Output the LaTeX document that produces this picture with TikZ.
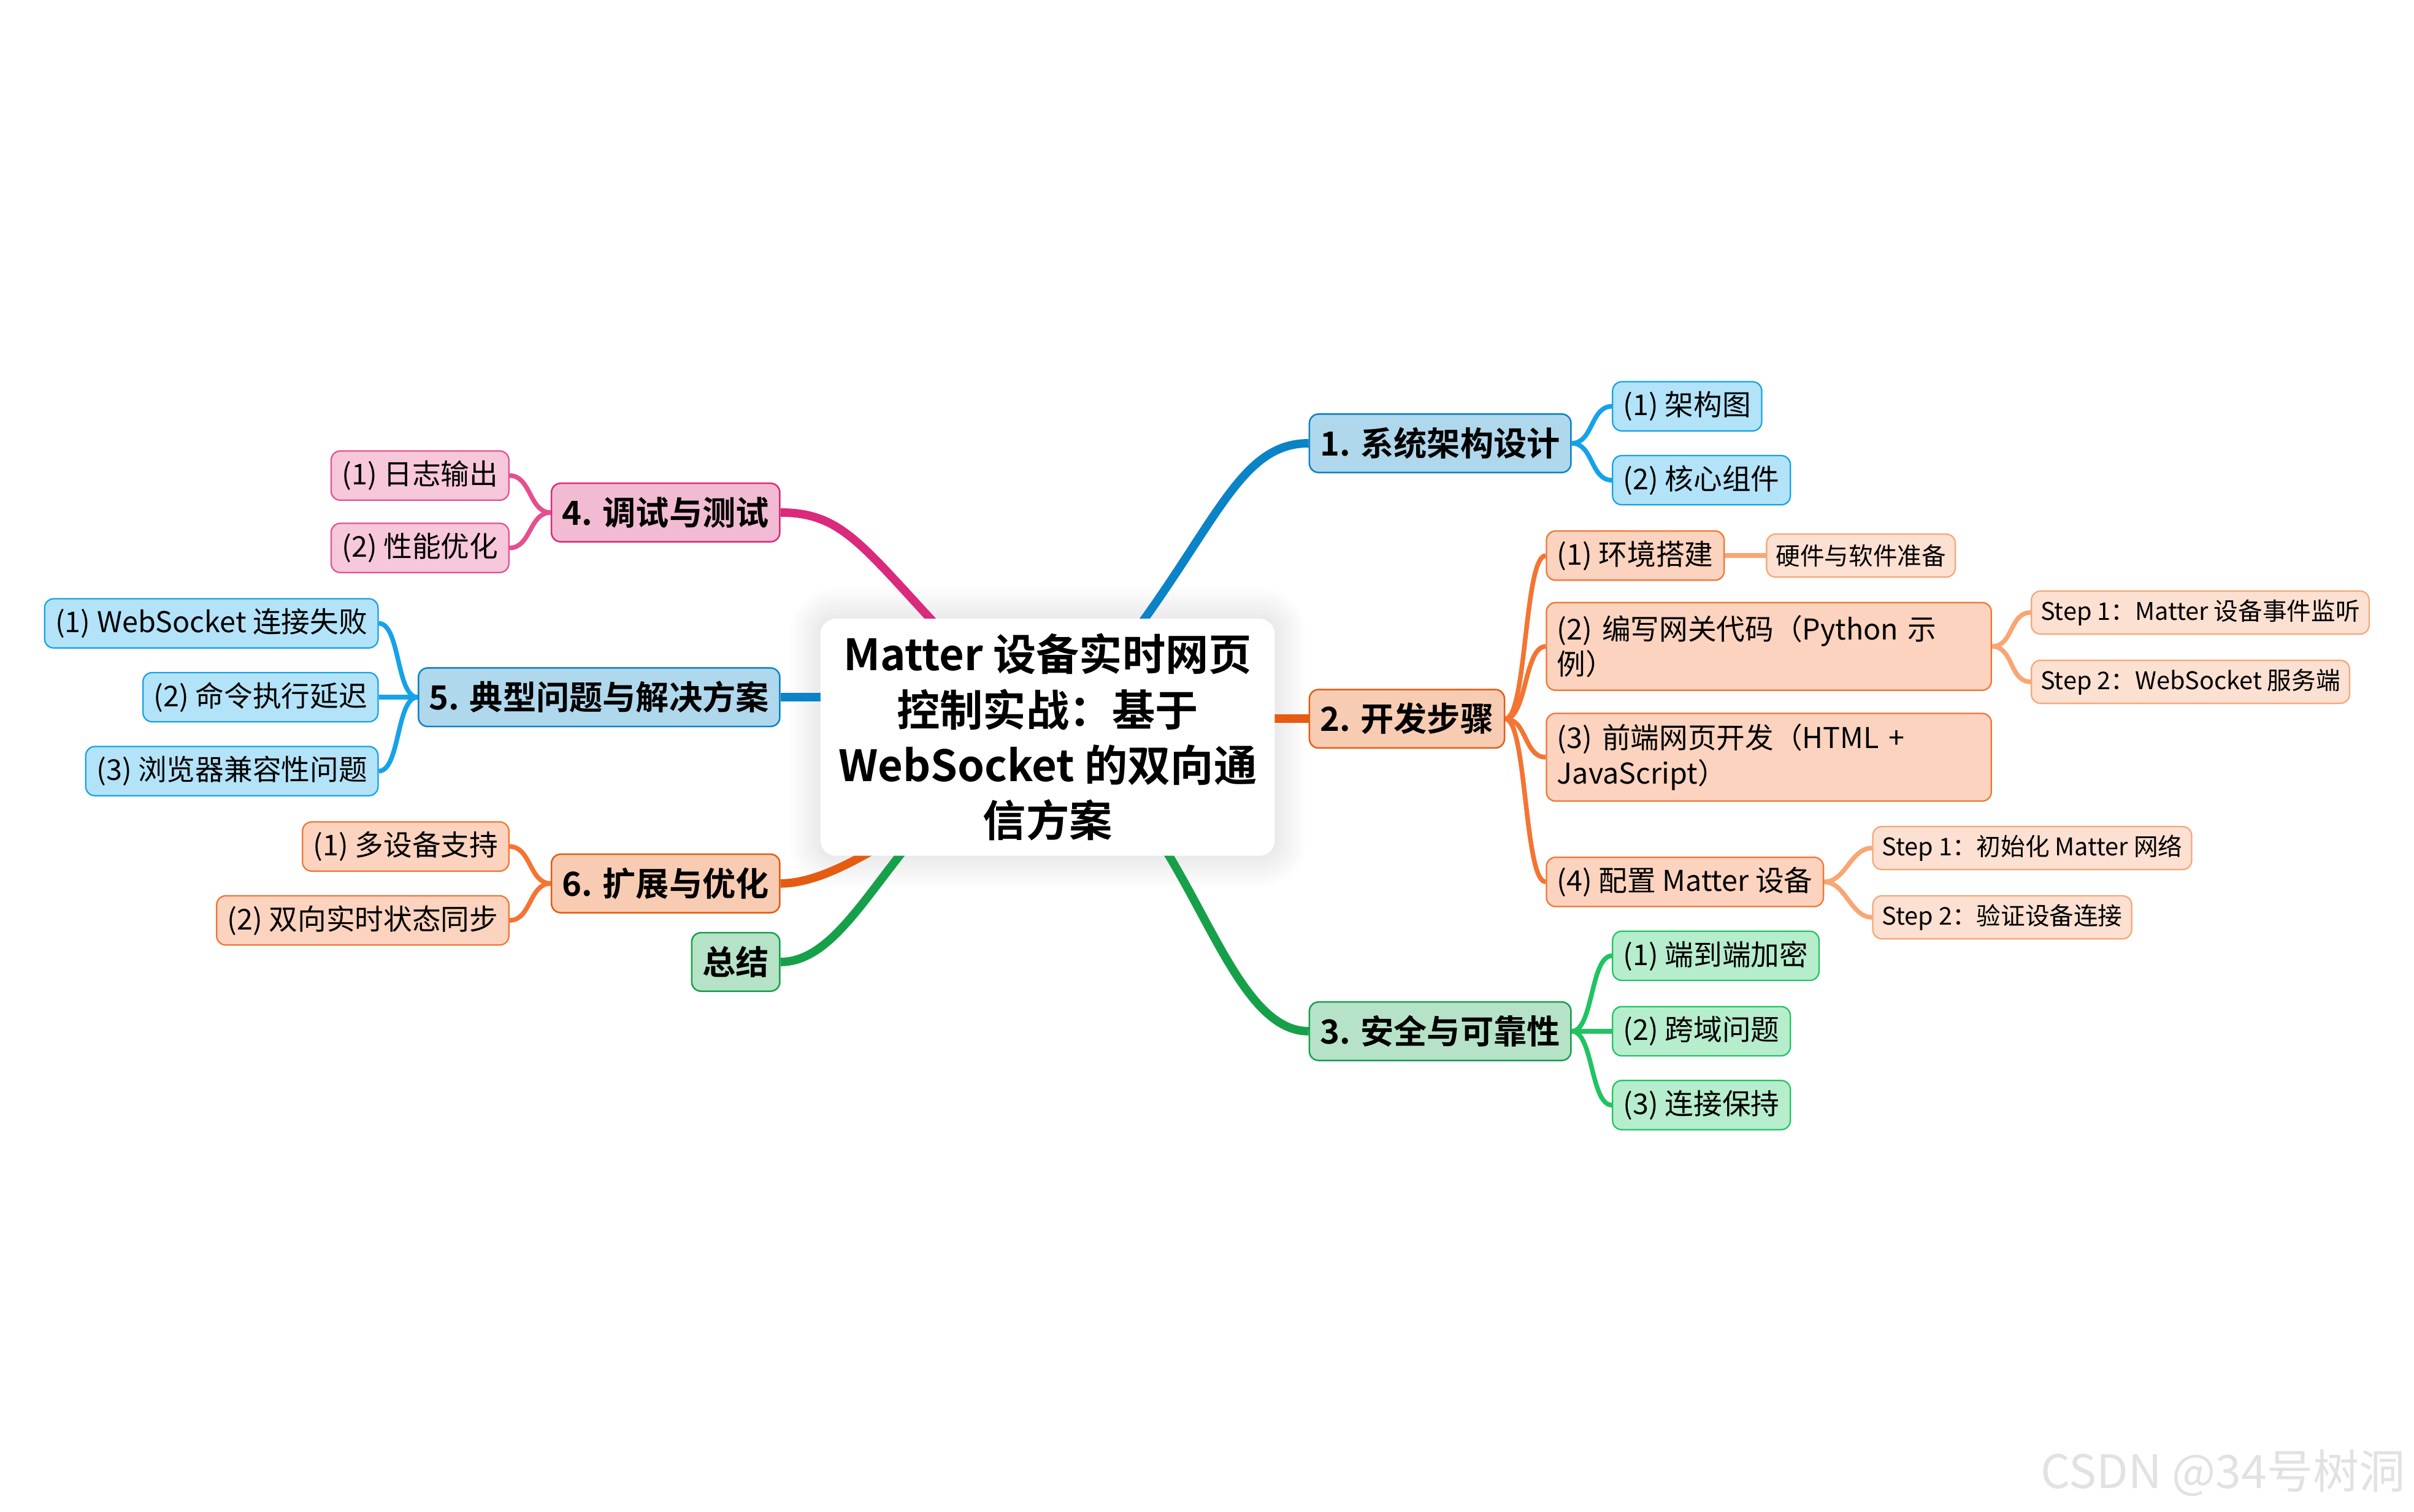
\documentclass[tikz,border=0pt]{standalone}
\usepackage{fontspec}
\setmainfont{Noto Sans CJK SC}[BoldFont={Noto Sans CJK SC Bold}]
\usepackage{xcolor}
\definecolor{blueMain}{HTML}{0B83C7}
\definecolor{blueMainFill}{HTML}{B0D8EC}
\definecolor{blueSub}{HTML}{16A2EA}
\definecolor{blueSubFill}{HTML}{B3E3F8}
\definecolor{orangeMain}{HTML}{E55B12}
\definecolor{orangeMainFill}{HTML}{F8CCB2}
\definecolor{orangeSub}{HTML}{F47432}
\definecolor{orangeSubFill}{HTML}{FBD3BE}
\definecolor{orangeLeaf}{HTML}{F9A675}
\definecolor{orangeLeafFill}{HTML}{FCE0D2}
\definecolor{greenMain}{HTML}{17A04A}
\definecolor{greenMainFill}{HTML}{B6E3C7}
\definecolor{greenSub}{HTML}{20C462}
\definecolor{greenSubFill}{HTML}{B6EDCC}
\definecolor{pinkMain}{HTML}{DA2A7C}
\definecolor{pinkMainFill}{HTML}{F2BBD3}
\definecolor{pinkSub}{HTML}{E4508F}
\definecolor{pinkSubFill}{HTML}{F7C7DC}
\definecolor{markGray}{HTML}{E2E2E2}
\usetikzlibrary{backgrounds}

\tikzset{
  rootbox/.style={fill=white, rounded corners=10pt, minimum width=295pt, minimum height=154pt,
    align=center, inner sep=0pt, font=\bfseries\fontsize{28}{36}\selectfont},
  topic/.style={draw, line width=1pt, rounded corners=6pt, minimum height=38pt,
    inner xsep=7pt, inner ysep=0pt, font=\bfseries\fontsize{21.6}{26}\selectfont},
  subtopic/.style={draw, line width=0.9pt, rounded corners=6pt, minimum height=32pt,
    inner xsep=7pt, inner ysep=0pt, font=\fontsize{18.6}{23}\selectfont},
  leaftopic/.style={draw, line width=0.9pt, rounded corners=6pt, minimum height=28pt,
    inner xsep=6pt, inner ysep=0pt, font=\fontsize{15.8}{19}\selectfont},
  twoline/.style={text width=275pt, align=left, minimum height=57pt},
  branch/.style={line width=5.5pt},
  twig/.style={line width=3pt},
}

\begin{document}
\begin{tikzpicture}[x=1pt, y=-1pt]
  \useasboundingbox (0,0) rectangle (1568,982);

  % centre
  \node[rootbox] (root) at (680.5,479) {Matter 设备实时网页\\控制实战：基于\\WebSocket 的双向通\\信方案};

  % right side
  \node[topic, fill=blueMainFill, draw=blueMain, anchor=west] (arch) at (850,288) {1. 系统架构设计};
  \node[subtopic, fill=blueSubFill, draw=blueSub, anchor=west] (archA) at (1047,264) {(1) 架构图};
  \node[subtopic, fill=blueSubFill, draw=blueSub, anchor=west] (archB) at (1047,312) {(2) 核心组件};

  \node[topic, fill=orangeMainFill, draw=orangeMain, anchor=west] (dev) at (850,467) {2. 开发步骤};
  \node[subtopic, fill=orangeSubFill, draw=orangeSub, anchor=west] (devA) at (1004,361) {(1) 环境搭建};
  \node[leaftopic, fill=orangeLeafFill, draw=orangeLeaf, anchor=west] (devA1) at (1147,361) {硬件与软件准备};
  \node[subtopic, twoline, fill=orangeSubFill, draw=orangeSub, anchor=west] (devB) at (1004,420) {(2) 编写网关代码（Python 示\\例）};
  \node[leaftopic, fill=orangeLeafFill, draw=orangeLeaf, anchor=west] (devB1) at (1319,398) {Step 1：Matter 设备事件监听};
  \node[leaftopic, fill=orangeLeafFill, draw=orangeLeaf, anchor=west] (devB2) at (1319,443) {Step 2：WebSocket 服务端};
  \node[subtopic, twoline, fill=orangeSubFill, draw=orangeSub, anchor=west] (devC) at (1004,492) {(3) 前端网页开发（HTML +\\JavaScript）};
  \node[subtopic, fill=orangeSubFill, draw=orangeSub, anchor=west] (devD) at (1004,573) {(4) 配置 Matter 设备};
  \node[leaftopic, fill=orangeLeafFill, draw=orangeLeaf, anchor=west] (devD1) at (1216,551) {Step 1：初始化 Matter 网络};
  \node[leaftopic, fill=orangeLeafFill, draw=orangeLeaf, anchor=west] (devD2) at (1216,596) {Step 2：验证设备连接};

  \node[topic, fill=greenMainFill, draw=greenMain, anchor=west] (safe) at (850,670) {3. 安全与可靠性};
  \node[subtopic, fill=greenSubFill, draw=greenSub, anchor=west] (safeA) at (1047,621) {(1) 端到端加密};
  \node[subtopic, fill=greenSubFill, draw=greenSub, anchor=west] (safeB) at (1047,670) {(2) 跨域问题};
  \node[subtopic, fill=greenSubFill, draw=greenSub, anchor=west] (safeC) at (1047,718) {(3) 连接保持};

  % left side
  \node[topic, fill=pinkMainFill, draw=pinkMain, anchor=east] (debug) at (507,333) {4. 调试与测试};
  \node[subtopic, fill=pinkSubFill, draw=pinkSub, anchor=east] (debugA) at (331,309) {(1) 日志输出};
  \node[subtopic, fill=pinkSubFill, draw=pinkSub, anchor=east] (debugB) at (331,356) {(2) 性能优化};

  \node[topic, fill=blueMainFill, draw=blueMain, anchor=east] (faq) at (507,453) {5. 典型问题与解决方案};
  \node[subtopic, fill=blueSubFill, draw=blueSub, anchor=east] (faqA) at (246,405) {(1) WebSocket 连接失败};
  \node[subtopic, fill=blueSubFill, draw=blueSub, anchor=east] (faqB) at (246,453) {(2) 命令执行延迟};
  \node[subtopic, fill=blueSubFill, draw=blueSub, anchor=east] (faqC) at (246,501) {(3) 浏览器兼容性问题};

  \node[topic, fill=orangeMainFill, draw=orangeMain, anchor=east] (ext) at (507,574) {6. 扩展与优化};
  \node[subtopic, fill=orangeSubFill, draw=orangeSub, anchor=east] (extA) at (331,550) {(1) 多设备支持};
  \node[subtopic, fill=orangeSubFill, draw=orangeSub, anchor=east] (extB) at (331,598) {(2) 双向实时状态同步};

  \node[topic, fill=greenMainFill, draw=greenMain, anchor=east] (sum) at (507,625) {总结};

  \node[text=markGray, anchor=east, font=\fontsize{30}{33}\selectfont] (mark) at (1566,957) {CSDN @34号树洞};

  \begin{scope}[on background layer]
    \fill[white] (0,0) rectangle (1568,982);
    % soft halo round the centre
    \foreach \s in {2,4,...,20}
      \fill[black, opacity=0.007, rounded corners=10pt+\s pt]
        ([xshift=-\s pt, yshift=\s pt]root.north west) rectangle ([xshift=\s pt, yshift=-\s pt]root.south east);

    \draw[branch, blueMain] (root.center) .. controls +(105,-112) and +(-55,0) .. (arch.west);
    \draw[branch, orangeMain] (root.center |- dev.west) -- (dev.west);
    \draw[branch, greenMain] (root.center) .. controls +(90,32) and +(-60,0) .. (safe.west);
    \draw[branch, pinkMain] (root.center) .. controls +(-115,-108) and +(53,0) .. (debug.east);
    \draw[branch, blueMain] (root.center |- faq.east) -- (faq.east);
    \draw[branch, orangeMain] (root.center) .. controls +(-70,42) and +(43,0) .. (ext.east);
    \draw[branch, greenMain] (root.center) .. controls +(-95,32) and +(53,0) .. (sum.east);

    \draw[twig, blueSub] (arch.east) .. controls +(14,0) and +(-14,0) .. (archA.west);
    \draw[twig, blueSub] (arch.east) .. controls +(14,0) and +(-14,0) .. (archB.west);

    \draw[twig, orangeSub] (dev.east) .. controls +(14,0) and +(-14,0) .. (devA.west);
    \draw[twig, orangeSub] (dev.east) .. controls +(14,0) and +(-14,0) .. (devB.west);
    \draw[twig, orangeSub] (dev.east) .. controls +(14,0) and +(-14,0) .. (devC.west);
    \draw[twig, orangeSub] (dev.east) .. controls +(14,0) and +(-14,0) .. (devD.west);
    \draw[twig, orangeLeaf] (devA.east) -- (devA1.west);
    \draw[twig, orangeLeaf] (devB.east) .. controls +(14,0) and +(-14,0) .. (devB1.west);
    \draw[twig, orangeLeaf] (devB.east) .. controls +(14,0) and +(-14,0) .. (devB2.west);
    \draw[twig, orangeLeaf] (devD.east) .. controls +(14,0) and +(-14,0) .. (devD1.west);
    \draw[twig, orangeLeaf] (devD.east) .. controls +(14,0) and +(-14,0) .. (devD2.west);

    \draw[twig, greenSub] (safe.east) .. controls +(14,0) and +(-14,0) .. (safeA.west);
    \draw[twig, greenSub] (safe.east) -- (safeB.west);
    \draw[twig, greenSub] (safe.east) .. controls +(14,0) and +(-14,0) .. (safeC.west);

    \draw[twig, pinkSub] (debug.west) .. controls +(-14,0) and +(14,0) .. (debugA.east);
    \draw[twig, pinkSub] (debug.west) .. controls +(-14,0) and +(14,0) .. (debugB.east);

    \draw[twig, blueSub] (faq.west) .. controls +(-14,0) and +(14,0) .. (faqA.east);
    \draw[twig, blueSub] (faq.west) -- (faqB.east);
    \draw[twig, blueSub] (faq.west) .. controls +(-14,0) and +(14,0) .. (faqC.east);

    \draw[twig, orangeSub] (ext.west) .. controls +(-14,0) and +(14,0) .. (extA.east);
    \draw[twig, orangeSub] (ext.west) .. controls +(-14,0) and +(14,0) .. (extB.east);
  \end{scope}
\end{tikzpicture}
\end{document}
